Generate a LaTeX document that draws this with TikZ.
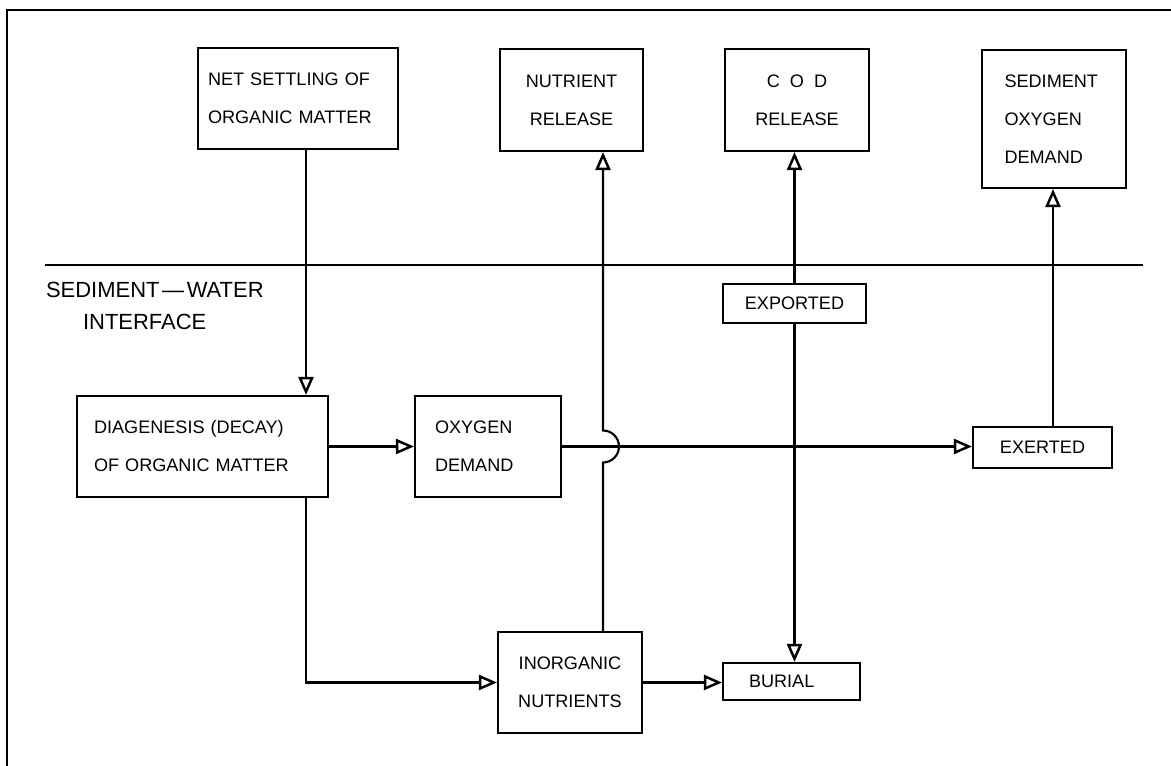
\documentclass[tikz,border=0pt]{standalone}
\usepackage{fontspec}
\setmainfont{Liberation Sans}
\usetikzlibrary{arrows.meta,calc}
\begin{document}
\begin{tikzpicture}[x=0.02cm,y=-0.02cm,
  line width=1.2pt,
  tip/.tip={Triangle[open,length=0.36cm,width=0.3cm,line width=1.4pt]},
  arr/.style={-tip},
  boxc/.style={draw,line width=1.2pt,inner sep=0pt,align=center,font=\fontsize{10.3}{21.6}\selectfont},
  boxl/.style={draw,line width=1.2pt,inner ysep=0pt,align=left,font=\fontsize{10.3}{21.6}\selectfont},
  lab/.style={inner sep=0pt,anchor=west,font=\fontsize{12.5}{15}\selectfont}]
\useasboundingbox (0,0) rectangle (1171,766);
% frame
\draw (7,766) -- (7,10) -- (1171,10);
% interface line
\draw (45,265) -- (1143,265);
\node[lab] (swi1) at (45,290) {SEDIMENT\kern1.5pt—\kern1.5pt WATER};
\node[lab] (swi2) at (82,322) {INTERFACE};
% boxes
\node[boxl,minimum height=2.02cm,inner xsep=0.2cm,text width=3.6cm] (NS) at (298,98.5) {NET SETTLING OF\\ORGANIC MATTER};
\node[boxc,minimum width=2.86cm,minimum height=2.04cm] (NR) at (571.5,100) {NUTRIENT\\RELEASE};
\node[boxc,minimum width=2.88cm,minimum height=2.04cm] (COD) at (797,100) {C~~O~~D\\RELEASE};
\node[boxl,minimum height=2.76cm,inner xsep=0.45cm,text width=1.98cm] (SOD) at (1054,119) {SEDIMENT\\OXYGEN\\DEMAND};
\node[boxc,minimum width=2.86cm,minimum height=0.78cm] (EXP) at (794.5,303.5) {EXPORTED};
\node[boxl,minimum height=2.02cm,inner xsep=0.34cm,text width=4.34cm] (DIA) at (202.5,446.5) {DIAGENESIS (DECAY)\\OF ORGANIC MATTER};
\node[boxl,minimum height=2.02cm,inner xsep=0.4cm,text width=2.12cm] (OD) at (488,446.5) {OXYGEN\\DEMAND};
\node[boxc,minimum width=2.78cm,minimum height=0.82cm] (EXR) at (1042.5,447.5) {EXERTED};
\node[boxc,minimum width=2.88cm,minimum height=2.02cm] (INO) at (570,682.5) {INORGANIC\\NUTRIENTS};
\node[boxl,minimum height=0.74cm,inner xsep=0.52cm,text width=1.7cm] (BUR) at (791.5,681.5) {BURIAL};
% connectors
\draw[arr] ([xshift=0.16cm]NS.south) -- ([xshift=0.16cm]NS.south |- DIA.north);
\draw[arr] (DIA.east) -- (DIA.east -| OD.west);
\draw[arr] (OD.east) -- (OD.east -| EXR.west);
\draw[arr] ([xshift=0.21cm]EXR.north) -- ([xshift=0.21cm]EXR.north |- SOD.south);
\draw[arr] ([xshift=2.07cm]DIA.south) |- (INO.west);
\draw[arr] (INO.east) -- (INO.east -| BUR.west);
\coordinate (X) at ([xshift=0.66cm]INO.north |- OD.east);
\draw[arr] ([xshift=0.66cm]INO.north) -- ([yshift=-0.32cm]X) arc[start angle=-90,end angle=90,radius=0.32cm] -- ([xshift=0.66cm]INO.north |- NR.south);
\draw[arr] (EXP.north) -- (EXP.north |- COD.south);
\draw[arr] (EXP.south) -- (EXP.south |- BUR.north);
\end{tikzpicture}
\end{document}
